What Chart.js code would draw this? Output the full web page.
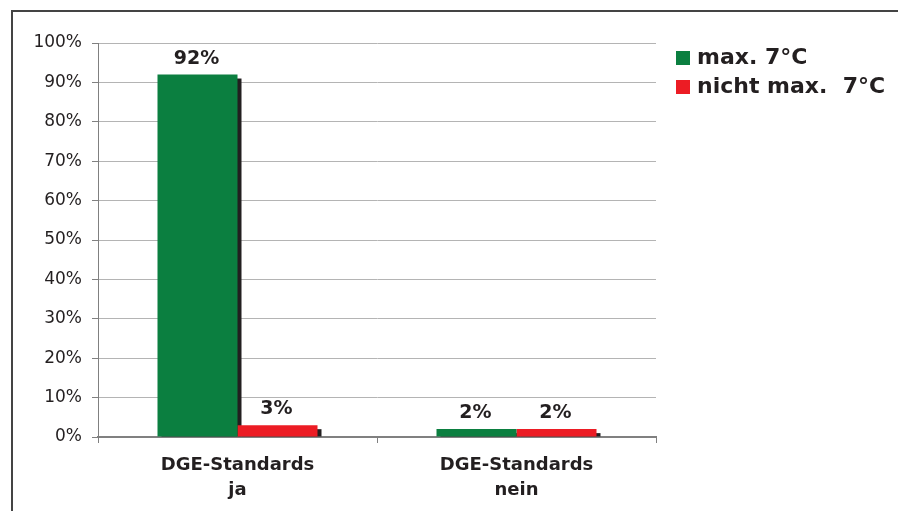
<!DOCTYPE html>
<html>
<head>
<meta charset="utf-8">
<script src="https://cdn.jsdelivr.net/npm/chart.js@4.4.1/dist/chart.umd.min.js"></script>
<style>
  body { margin: 0; background: #fff; }
  #wrap { position: relative; width: 898px; height: 511px; overflow: hidden; }
  #frame { position: absolute; left: 11px; top: 10px; right: -5px; bottom: -5px;
           border-top: 2px solid #444; border-left: 2px solid #444; }
  canvas { position: absolute; left: 0; top: 0; }
</style>
</head>
<body>
<div id="wrap">
  <div id="frame"></div>
  <canvas id="myChart" width="898" height="511"></canvas>
</div>
<script>
// data
let categories = [["DGE-Standards", "ja"], ["DGE-Standards", "nein"]];
let seriesNames = ["max. 7°C", "nicht max.  7°C"];
let max7 = [92, 2];
let nichtMax7 = [3, 2];
let barColors = ["#0b7f40", "#ec1c24"];

const txt = "#231f20";
const font = "'DejaVu Sans', Verdana, sans-serif";

// black drop shadow behind each bar
const shadowPlugin = {
    id: "shadow",
    beforeDatasetsDraw(chart) {
        const ctx = chart.ctx;
        ctx.save();
        ctx.fillStyle = "#231f20";
        chart.data.datasets.forEach((ds, i) => {
            chart.getDatasetMeta(i).data.forEach(bar => {
                const w = bar.width;
                const h = bar.base - bar.y - 4;
                if (h > 0) ctx.fillRect(bar.x - w / 2 + 4, bar.y + 4, w, h);
            });
        });
        ctx.restore();
    }
};

// value labels above bars
const labelPlugin = {
    id: "valueLabels",
    afterDatasetsDraw(chart) {
        const ctx = chart.ctx;
        ctx.save();
        ctx.fillStyle = txt;
        ctx.font = "bold 19px " + font;
        ctx.textAlign = "center";
        ctx.textBaseline = "alphabetic";
        chart.data.datasets.forEach((ds, i) => {
            chart.getDatasetMeta(i).data.forEach((bar, j) => {
                ctx.fillText(ds.data[j] + "%", bar.x - 1, bar.y - 11);
            });
        });
        ctx.restore();
    }
};

// legend on the right
const legendPlugin = {
    id: "sideLegend",
    afterDraw(chart) {
        const ctx = chart.ctx;
        ctx.save();
        ctx.font = "bold 22px " + font;
        ctx.textBaseline = "middle";
        chart.data.datasets.forEach((ds, i) => {
            const y = 58 + i * 29;
            ctx.fillStyle = ds.backgroundColor;
            ctx.fillRect(676, y - 7, 14, 14);
            ctx.fillStyle = txt;
            ctx.fillText(ds.label, 697, y);
        });
        ctx.restore();
    }
};

new Chart("myChart", {
    type: "bar",
    data: {
        labels: categories,
        datasets: [
            { label: seriesNames[0], data: max7, backgroundColor: barColors[0] },
            { label: seriesNames[1], data: nichtMax7, backgroundColor: barColors[1] }
        ]
    },
    plugins: [shadowPlugin, labelPlugin, legendPlugin],
    options: {
        responsive: false,
        animation: false,
        categoryPercentage: 160 / 279,
        barPercentage: 1,
        layout: { padding: { top: 43, left: 0, right: 242, bottom: 0 } },
        plugins: { legend: { display: false }, tooltip: { enabled: false } },
        scales: {
            x: {
                afterFit(s) { s.height = 74; },
                grid: { drawOnChartArea: false, tickLength: 6, tickColor: "#808080", offset: true },
                border: { color: "#808080", width: 2 },
                ticks: {
                    color: txt,
                    padding: 10,
                    font: { family: font, size: 18, weight: "bold", lineHeight: 1.4 }
                }
            },
            y: {
                min: 0,
                max: 100,
                afterFit(s) { s.width = 98; },
                grid: { color: "#b4b4b4", tickLength: 6, tickColor: "#808080" },
                border: { color: "#808080", width: 1 },
                ticks: {
                    stepSize: 10,
                    color: txt,
                    padding: 10,
                    font: { family: font, size: 17 },
                    callback: v => v + "%"
                }
            }
        }
    }
});
</script>
</body>
</html>
